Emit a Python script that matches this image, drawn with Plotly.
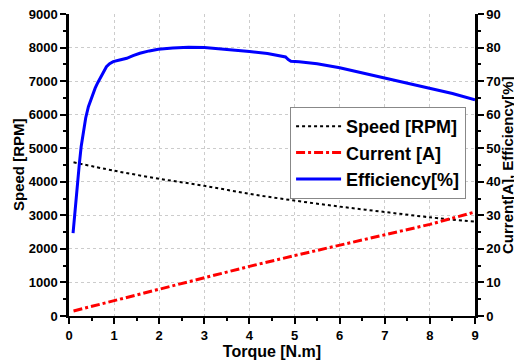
import plotly.graph_objects as go

torque_speed = [0.1, 1, 2, 3, 4, 5, 6, 7, 8, 9]
speed_rpm = [4580, 4330, 4090, 3880, 3640, 3440, 3260, 3100, 2940, 2810]

torque_current = [0.1, 1, 2, 3, 4, 5, 6, 7, 8, 9]
current_a = [1.5, 4.6, 8.0, 11.4, 14.8, 18.0, 21.2, 24.2, 27.3, 31.0]

torque_eff = [0.09, 0.12, 0.15, 0.19, 0.23, 0.27, 0.32, 0.37, 0.43, 0.5, 0.58, 0.64, 0.7,
              0.77, 0.83, 0.9, 0.98, 1.1, 1.28, 1.42, 1.57, 1.78, 1.98,
              2.3, 2.65, 3.0, 3.5, 4.0, 4.4, 4.7, 4.8, 4.86, 4.92, 5.1, 5.5, 6.0, 6.5,
              7.0, 7.5, 8.0, 8.5, 9.0]
efficiency = [24.7, 29.5, 34.0, 40.0, 45.5, 50.5, 55.4, 59.0, 62.4, 65.3, 67.9, 69.6, 71.2,
              72.9, 74.3, 75.2, 75.8, 76.2, 76.8, 77.6, 78.3, 79.0, 79.5,
              79.9, 80.1, 80.0, 79.5, 78.8, 78.2, 77.6, 77.2, 76.4, 75.9, 75.8, 75.2, 74.0, 72.5,
              70.8, 69.4, 68.0, 66.3, 64.4]

FONT = "Liberation Sans, Arial, sans-serif"

fig = go.Figure()
fig.add_trace(go.Scatter(x=torque_speed, y=speed_rpm, name="Speed [RPM]",
                         mode="lines", line=dict(color="black", width=2, dash="dot"),
                         line_shape="spline"))
fig.add_trace(go.Scatter(x=torque_current, y=current_a, name="Current [A]", yaxis="y2",
                         mode="lines", line=dict(color="red", width=3, dash="dashdot")))
fig.add_trace(go.Scatter(x=torque_eff, y=efficiency, name="Efficiency[%]", yaxis="y2",
                         mode="lines", line=dict(color="blue", width=3)))

tickfont = dict(family=FONT, size=13, color="black", weight="bold")
titlefont = dict(family=FONT, size=16, color="black", weight="bold")
ytitlefont = dict(family=FONT, size=15, color="black", weight="bold")

# page body has an 8px default margin, so the figure is sized to fit the 522x363 window
fig.update_layout(
    width=514, height=355,
    margin=dict(l=61, r=47, t=6, b=47, autoexpand=False),
    paper_bgcolor="white", plot_bgcolor="white",
    showlegend=True,
    legend=dict(x=0.978, y=0.692, xanchor="right", yanchor="top",
                bgcolor="white", bordercolor="#888888", borderwidth=1,
                font=dict(family=FONT, size=18, color="black", weight="bold"),
                tracegroupgap=0, itemwidth=45),
    xaxis=dict(range=[0, 9], dtick=1, tick0=0, showline=True, linecolor="black", linewidth=2,
               ticks="outside", ticklen=6, tickwidth=2, tickcolor="black",
               minor=dict(ticks="outside", ticklen=3, tickwidth=2, tickcolor="black", dtick=0.5, showgrid=False),
               showgrid=True, gridcolor="#cccccc", gridwidth=1, griddash="dot",
               zeroline=False, tickfont=tickfont, automargin=True, ticklabeloverflow="allow",
               title=dict(text="Torque [N.m]", font=titlefont, standoff=4)),
    yaxis=dict(range=[0, 9000], dtick=1000, tick0=0, showline=True, linecolor="black", linewidth=2.5,
               ticks="outside", ticklen=6, tickwidth=2, tickcolor="black",
               minor=dict(ticks="outside", ticklen=3, tickwidth=2, tickcolor="black", dtick=500, showgrid=False),
               showgrid=True, gridcolor="#cccccc", gridwidth=1, griddash="dot",
               zeroline=False, tickfont=tickfont, automargin=False, ticklabeloverflow="allow"),
    yaxis2=dict(range=[0, 90], dtick=10, tick0=0, overlaying="y", side="right",
                showline=True, linecolor="black", linewidth=2.5,
                ticks="outside", ticklen=6, tickwidth=2, tickcolor="black",
                minor=dict(ticks="outside", ticklen=3, tickwidth=2, tickcolor="black", dtick=5, showgrid=False),
                showgrid=False, zeroline=False, tickfont=tickfont, automargin=False, ticklabeloverflow="allow"),
    annotations=[
        dict(text="Speed [RPM]", xref="paper", yref="paper", x=0, y=0.5, xshift=-51,
             xanchor="center", yanchor="middle", textangle=-90, showarrow=False, font=ytitlefont),
        dict(text="Current[A], Efficiency[%]", xref="paper", yref="paper", x=1, y=0.5, xshift=32,
             xanchor="center", yanchor="middle", textangle=-90, showarrow=False, font=ytitlefont),
    ],
)

fig.write_html("out.html")
